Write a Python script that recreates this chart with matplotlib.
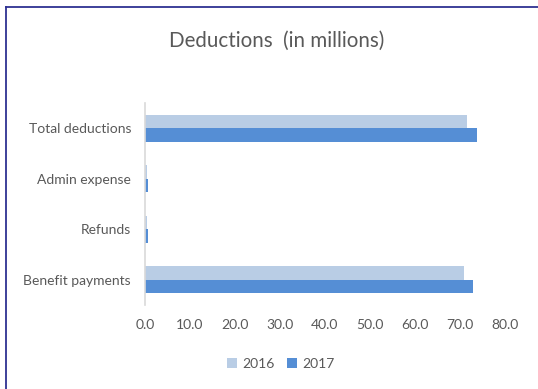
import matplotlib.pyplot as plt
import numpy as np
from matplotlib.lines import Line2D

plt.rcParams['font.family'] = ['Lato', 'DejaVu Sans']

# Kategorien von unten nach oben
categories = ['Benefit payments', 'Refunds', 'Admin expense', 'Total deductions']
values_2016 = [70.9, 0.5, 0.5, 71.6]
values_2017 = [72.8, 0.6, 0.6, 73.9]
xticks = [0, 10, 20, 30, 40, 50, 60, 70, 80]

c2016 = '#b9cde5'
c2017 = '#558ed5'
grau = '#595959'

fig = plt.figure(figsize=(5.38, 3.89), dpi=100)
ax = fig.add_axes([0.2695, 0.216, 0.669, 0.519])

y = np.arange(len(categories))
h = 0.267
ax.barh(y + h / 2, values_2016, height=h, color=c2016, label='2016')
ax.barh(y - h / 2, values_2017, height=h, color=c2017, label='2017')

ax.set_xlim(0, 80)
ax.set_ylim(-0.5, len(categories) - 0.5)
ax.set_xticks(xticks)
ax.set_xticklabels(['%.1f' % t for t in xticks])
ax.set_yticks(y)
ax.set_yticklabels(categories)
ax.tick_params(axis='both', length=0, labelsize=10, colors=grau)
ax.tick_params(axis='x', pad=10)
ax.tick_params(axis='y', pad=10)

for s in ['top', 'right', 'bottom']:
    ax.spines[s].set_visible(False)
ax.spines['left'].set_color('#d9d9d9')
ax.spines['left'].set_linewidth(1.2)

fig.text(0.515, 0.895, 'Deductions  (in millions)', ha='center', va='center',
         fontsize=14.8, color=grau)

fig.legend(loc='center', bbox_to_anchor=(0.522, 0.064), ncol=2, frameon=False,
           fontsize=10, labelcolor=grau, handlelength=0.7, handleheight=0.7,
           handletextpad=0.4, columnspacing=0.9)

# Rahmen oben und links
fig.add_artist(Line2D([0.011, 1.0], [0.982, 0.982], color='#2e3192', lw=1.3,
                      transform=fig.transFigure))
fig.add_artist(Line2D([0.0115, 0.0115], [0.0, 0.982], color='#2e3192', lw=1.3,
                      transform=fig.transFigure))

fig.savefig('out.png', dpi=100)
